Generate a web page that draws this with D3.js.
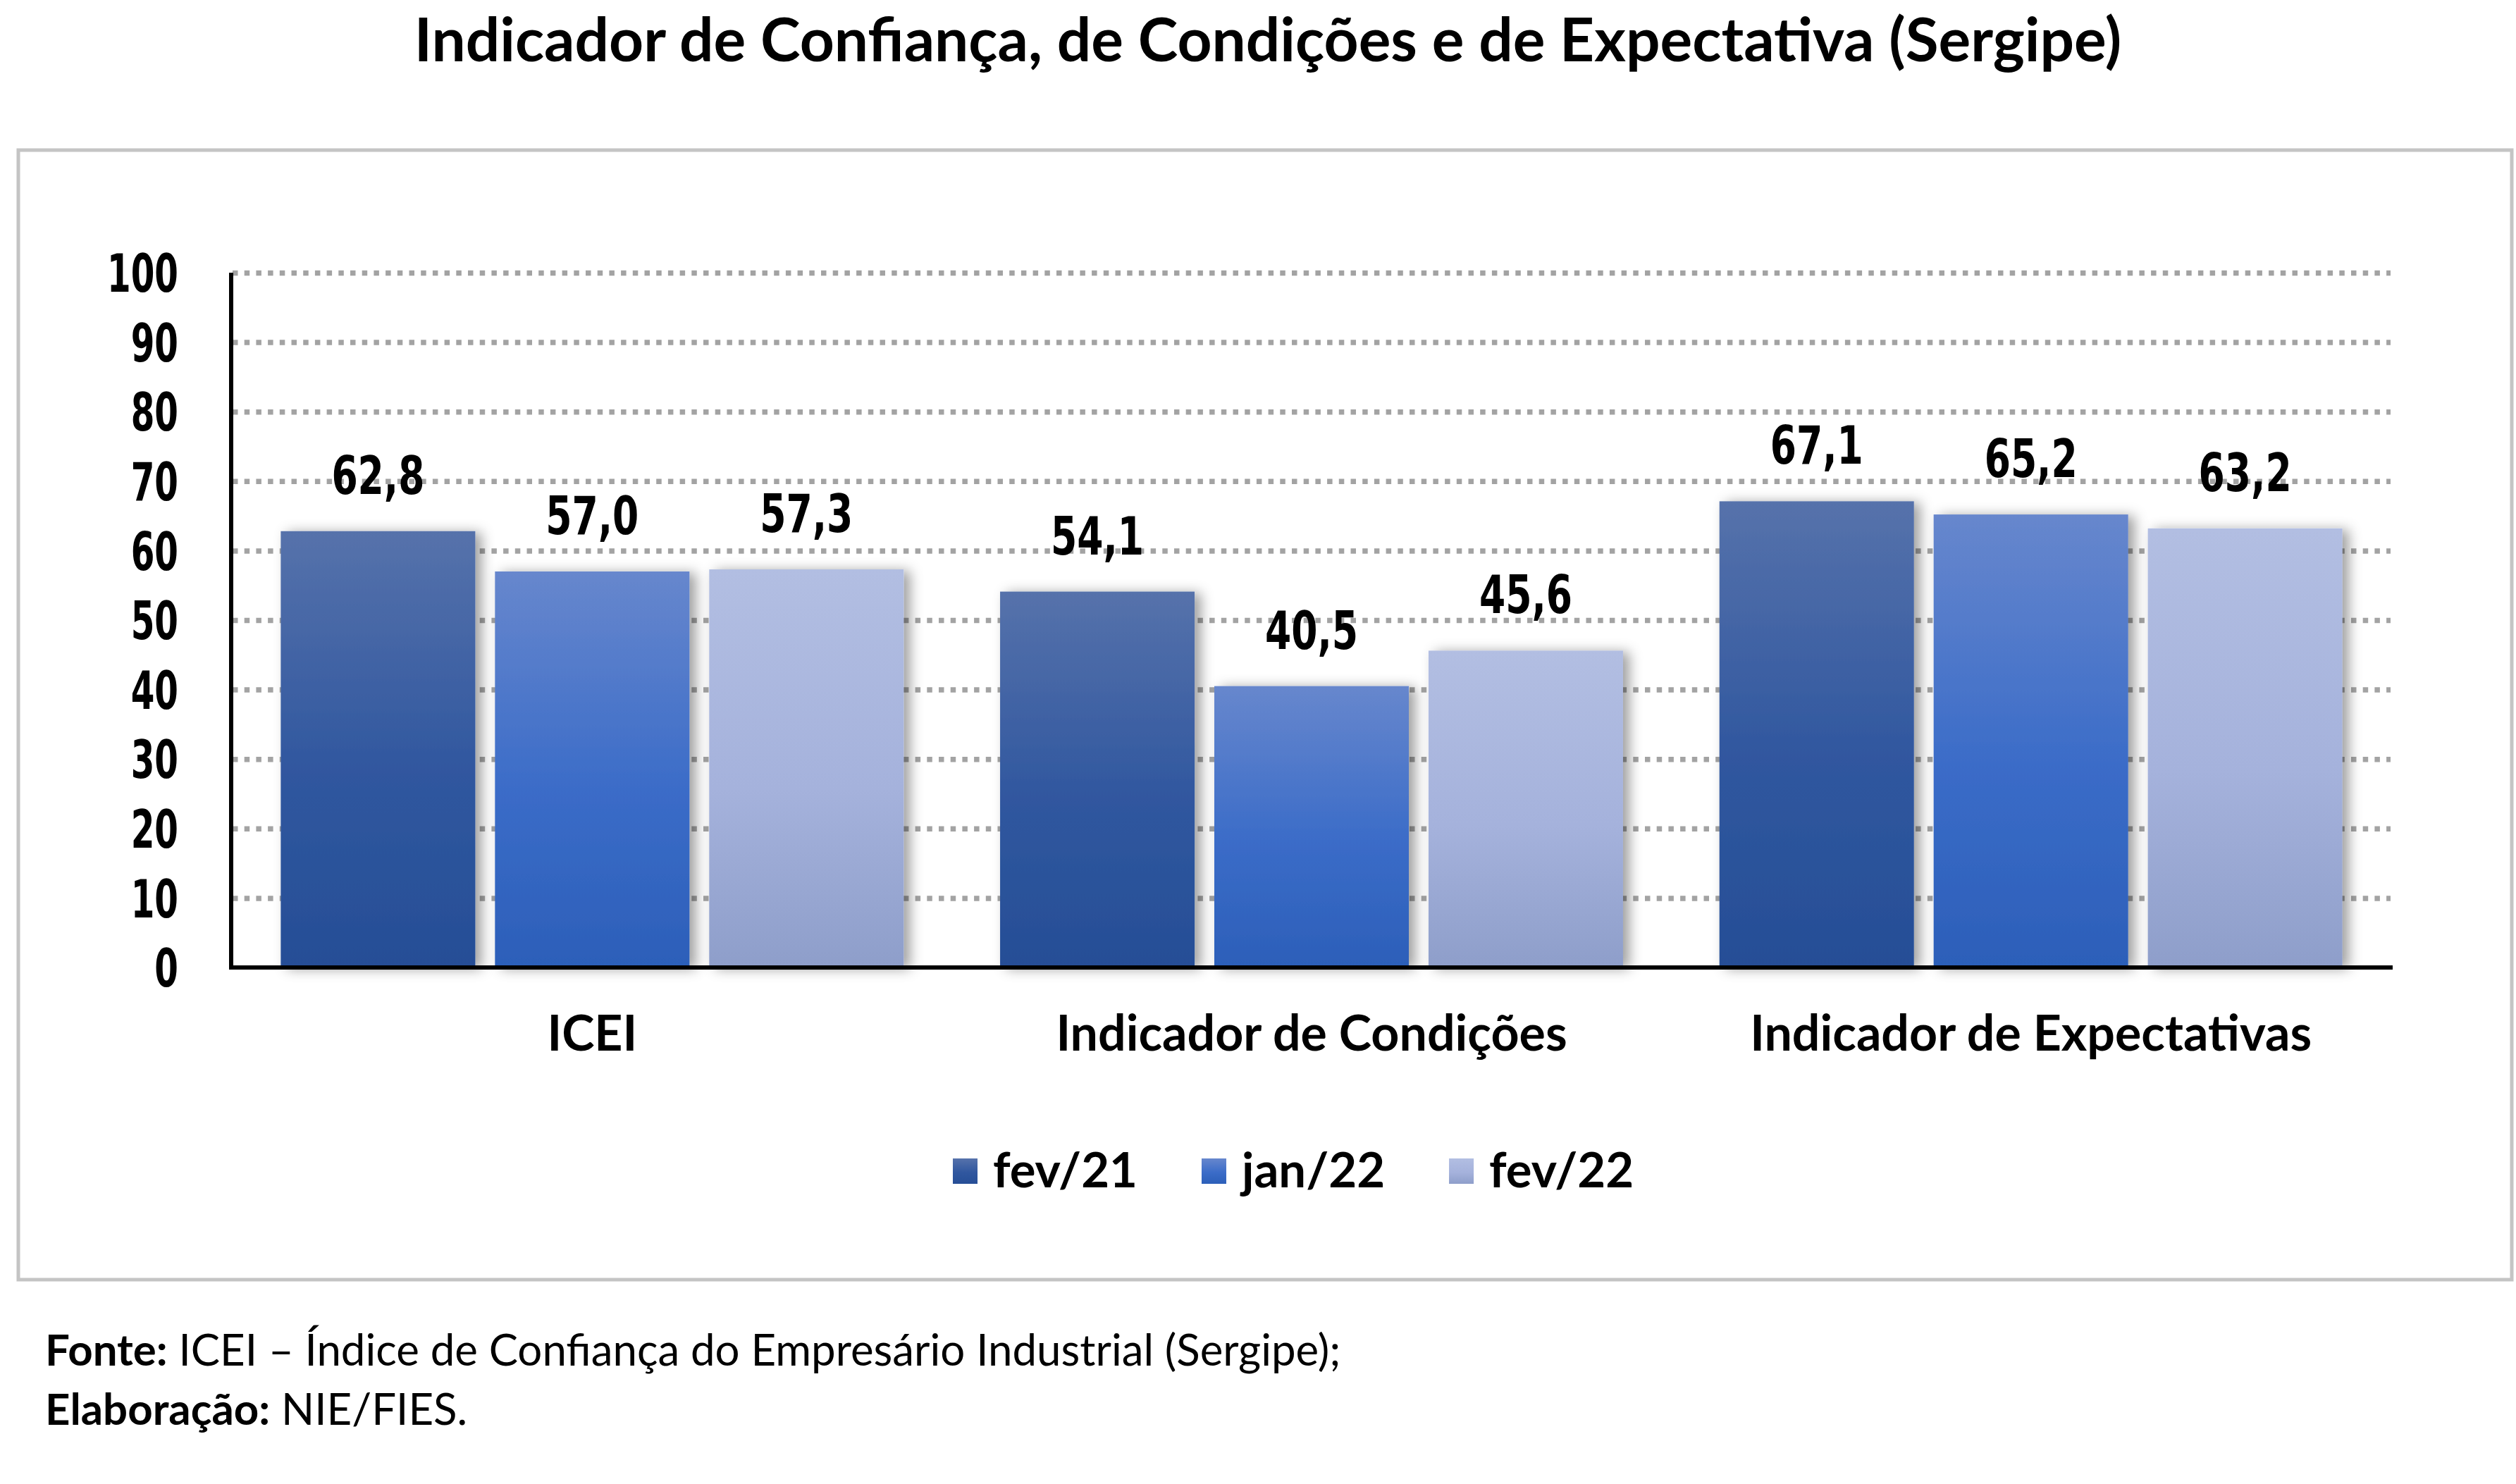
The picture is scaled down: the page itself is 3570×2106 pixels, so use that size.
<!DOCTYPE html>
<html>
<head>
<meta charset="utf-8">
<script src="https://cdn.jsdelivr.net/npm/d3@7"></script>
<style>
  html, body { margin: 0; padding: 0; background: #ffffff; }
  svg { display: block; }
  .cal { font-family: "Lato", "Open Sans", sans-serif; }
  .din { font-family: "DejaVu Sans Condensed", "DejaVu Sans", sans-serif; font-stretch: condensed; font-weight: bold; }
</style>
</head>
<body>
<svg id="chart" width="3570" height="2106"></svg>
<script>
// ---------- DATA ----------
const titleText = "Indicador de Confiança, de Condições e de Expectativa (Sergipe)";
const categories = ["ICEI", "Indicador de Condições", "Indicador de Expectativas"];
const seriesNames = ["fev/21", "jan/22", "fev/22"];
const fev21 = [62.8, 54.1, 67.1];
const jan22 = [57.0, 40.5, 65.2];
const fev22 = [57.3, 45.6, 63.2];
const yTicks = [0, 10, 20, 30, 40, 50, 60, 70, 80, 90, 100];
const footer1Bold = "Fonte:";
const footer1Text = " ICEI – Índice de Confiança do Empresário Industrial (Sergipe);";
const footer2Bold = "Elaboração:";
const footer2Text = " NIE/FIES.";

// ---------- STYLE ----------
const gradStops = [
  ["#5672ab", "#30579f", "#264e96"],
  ["#6787cd", "#3b6cc8", "#2c5fb9"],
  ["#b2bee2", "#a5b2dc", "#8e9eca"]
];

const W = 3570, H = 2106;
const plot = { left: 330, right: 3392, top: 387, bottom: 1373 };

const svg = d3.select("#chart");
const defs = svg.append("defs");

gradStops.forEach((s, i) => {
  const g = defs.append("linearGradient").attr("id", "grad" + i)
    .attr("x1", 0).attr("y1", 0).attr("x2", 0).attr("y2", 1);
  g.append("stop").attr("offset", "0%").attr("stop-color", s[0]);
  g.append("stop").attr("offset", "55%").attr("stop-color", s[1]);
  g.append("stop").attr("offset", "100%").attr("stop-color", s[2]);
});

const f = defs.append("filter").attr("id", "shadow")
  .attr("x", "-20%").attr("y", "-10%").attr("width", "140%").attr("height", "120%");
f.append("feDropShadow").attr("dx", 9).attr("dy", 2).attr("stdDeviation", 9)
  .attr("flood-color", "#000").attr("flood-opacity", 0.38);

// background
svg.append("rect").attr("width", W).attr("height", H).attr("fill", "#fff");

// frame
svg.append("rect").attr("x", 26).attr("y", 213).attr("width", 3538).attr("height", 1603)
  .attr("fill", "none").attr("stroke", "#c4c4c4").attr("stroke-width", 5);

// helpers
function fitFont(sel, baseSize, target) {
  sel.attr("font-size", baseSize);
  const w = sel.node().getComputedTextLength();
  const fs = baseSize * target / w;
  sel.attr("font-size", fs);
  return fs;
}
function squeeze(sel, factor) {
  sel.each(function () {
    const w = this.getComputedTextLength();
    d3.select(this).attr("textLength", w * factor).attr("lengthAdjust", "spacingAndGlyphs");
  });
}

// title
const title = svg.append("text").attr("class", "cal")
  .attr("x", 1799).attr("y", 87).attr("text-anchor", "middle")
  .attr("font-weight", "bold").attr("fill", "#000").text(titleText);
fitFont(title, 80, 2423);

// scales
const x0 = d3.scaleBand().domain(categories).range([plot.left, plot.right]).paddingInner(0).paddingOuter(0);
const x1 = d3.scaleBand().domain(seriesNames).range([0, x0.bandwidth()]).paddingInner(0.092).paddingOuter(0.225);
const y = d3.scaleLinear().domain([0, 100]).range([plot.bottom, plot.top]);

// gridlines
const grid = svg.append("g").attr("transform", `translate(${plot.left},0)`)
  .call(d3.axisLeft(y).tickValues(yTicks.filter(t => t > 0))
    .tickSize(-(plot.right - plot.left)).tickFormat(""));
grid.select(".domain").remove();
grid.selectAll("line").attr("stroke", "#a3a3a3").attr("stroke-width", 7.5)
  .attr("stroke-dasharray", "7.5 9.2").attr("transform", "translate(0,0)");

// bars
const seriesVals = [fev21, jan22, fev22];
const barData = [];
categories.forEach((c, ci) => {
  seriesNames.forEach((s, si) => {
    barData.push({ cat: c, ser: s, si: si, v: seriesVals[si][ci] });
  });
});

const fmtLocale = d3.formatLocale({ decimal: ",", thousands: ".", grouping: [3], currency: ["R$", ""] });
const fmt = fmtLocale.format(".1f");

svg.append("g").selectAll("rect").data(barData).join("rect")
  .attr("x", d => x0(d.cat) + x1(d.ser))
  .attr("y", d => y(d.v))
  .attr("width", x1.bandwidth())
  .attr("height", d => y(0) - y(d.v))
  .attr("fill", d => `url(#grad${d.si})`)
  .attr("filter", "url(#shadow)");

// value labels
const vLabels = svg.append("g").selectAll("text").data(barData).join("text")
  .attr("class", "din")
  .attr("x", d => x0(d.cat) + x1(d.ser) + x1.bandwidth() / 2)
  .attr("y", d => y(d.v) - 53)
  .attr("text-anchor", "middle")
  .attr("font-size", 74).attr("fill", "#000")
  .text(d => fmt(d.v));
const vFactor = 132 / vLabels.node().getComputedTextLength();
squeeze(vLabels, vFactor);

// y axis
const yAxis = svg.append("g").attr("transform", `translate(${plot.left},0)`)
  .call(d3.axisLeft(y).tickValues(yTicks).tickSize(0).tickSizeOuter(0).tickPadding(77));
yAxis.select(".domain").attr("stroke", "#000").attr("stroke-width", 6)
  .attr("d", `M-2,${plot.top}V${plot.bottom}`);
const yt = yAxis.selectAll("text").attr("class", "din").attr("font-size", 74)
  .attr("fill", "#000").attr("font-family", null).attr("dy", "0.36em");
let refNode = null;
yt.each(function (d) { if (d === 100) refNode = this; });
const tFactor = 101 / refNode.getComputedTextLength();
squeeze(yt, tFactor);

// x axis
const xAxis = svg.append("g").attr("transform", `translate(0,${plot.bottom})`)
  .call(d3.axisBottom(x0).tickSize(0).tickSizeOuter(0));
xAxis.select(".domain").attr("stroke", "#000").attr("stroke-width", 6)
  .attr("d", `M${plot.left - 5},0H${plot.right + 3}`);
const xt = xAxis.selectAll("text").attr("class", "cal").attr("font-family", null)
  .attr("font-weight", "bold").attr("fill", "#000").attr("y", 118).attr("dy", 0);
let refCat = null;
xt.each(function (d) { if (d === "Indicador de Expectativas") refCat = this; });
const catFs = fitFont(d3.select(refCat), 64, 797);
xt.attr("font-size", catFs);

// legend
const legend = svg.append("g");
const items = legend.selectAll("g").data(seriesNames).join("g");
items.append("rect").attr("width", 35).attr("height", 36).attr("y", 1644)
  .attr("fill", (d, i) => `url(#grad${i})`);
const lt = items.append("text").attr("class", "cal").attr("font-weight", "bold")
  .attr("y", 1685).attr("fill", "#000").text(d => d);
const legFs = fitFont(d3.select(lt.nodes()[0]), 66, 205);
lt.attr("font-size", legFs);
let lx = 1352;
items.each(function () {
  const g = d3.select(this);
  g.select("rect").attr("x", lx);
  g.select("text").attr("x", lx + 57);
  lx += 57 + g.select("text").node().getComputedTextLength() + 91;
});

// footer
const f1 = svg.append("text").attr("class", "cal").attr("x", 64).attr("y", 1938).attr("fill", "#000");
f1.append("tspan").attr("font-weight", "bold").text(footer1Bold);
f1.append("tspan").text(footer1Text);
const f2 = svg.append("text").attr("class", "cal").attr("x", 64).attr("y", 2022).attr("fill", "#000");
f2.append("tspan").attr("font-weight", "bold").text(footer2Bold);
f2.append("tspan").text(footer2Text);
const ffs = fitFont(f1, 52, 1839);
f2.attr("font-size", ffs);
</script>
</body>
</html>
